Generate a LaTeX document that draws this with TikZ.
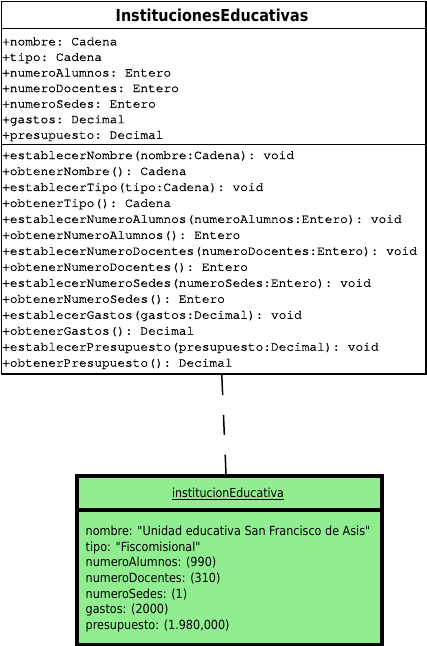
\documentclass[tikz,border=0pt]{standalone}
\usepackage{fontspec}
\setmonofont[FakeBold=1.3]{TeX Gyre Cursor}
\newfontfamily\objfont[FakeStretch=0.89]{DejaVu Sans}
\newfontfamily\ttlfont[FakeStretch=0.87]{DejaVu Sans}
\definecolor{objgreen}{HTML}{90EE90}
\begin{document}
\begin{tikzpicture}[x=1pt,y=-1pt,
  monotxt/.style={anchor=base west, inner sep=0pt, font=\ttfamily\fontsize{12.8}{16}\selectfont},
  objtxt/.style={anchor=base west, inner sep=0pt, font=\objfont\fontsize{12.6}{15}\selectfont},
  classbox/.style={draw, line width=1.6pt, inner sep=0pt, anchor=north west},
  objbox/.style={draw, fill=objgreen, line width=4pt, inner sep=0pt, anchor=north west},
  depline/.style={line width=1.5pt, dash pattern=on 20pt off 20pt}]
\useasboundingbox (0,0) rectangle (427,646);
% class box
\node[classbox, minimum width=424.2pt, minimum height=372.6pt] (cls) at (0.8,0.8) {};
\draw[line width=1.6pt] (cls.west |- 0,28.3) -- (cls.east |- 0,28.3);
\draw[line width=1.6pt] (cls.west |- 0,144.5) -- (cls.east |- 0,144.5);
\node[font=\ttlfont\bfseries\fontsize{16.5}{18}\selectfont] (title) at (212,15) {InstitucionesEducativas};
\foreach \t [count=\i] in {+nombre: Cadena,+tipo: Cadena,+numeroAlumnos: Entero,+numeroDocentes: Entero,+numeroSedes: Entero,+gastos: Decimal,+presupuesto: Decimal}
  \node[monotxt] (at\i) at (2,{45.3+15.57*(\i-1)}) {\t};
\foreach \t [count=\i] in {+establecerNombre(nombre:Cadena): void,+obtenerNombre(): Cadena,+establecerTipo(tipo:Cadena): void,+obtenerTipo(): Cadena,+establecerNumeroAlumnos(numeroAlumnos:Entero): void,+obtenerNumeroAlumnos(): Entero,+establecerNumeroDocentes(numeroDocentes:Entero): void,+obtenerNumeroDocentes(): Entero,+establecerNumeroSedes(numeroSedes:Entero): void,+obtenerNumeroSedes(): Entero,+establecerGastos(gastos:Decimal): void,+obtenerGastos(): Decimal,+establecerPresupuesto(presupuesto:Decimal): void,+obtenerPresupuesto(): Decimal}
  \node[monotxt] (mt\i) at (2,{159+15.97*(\i-1)}) {\t};
% object box
\node[objbox, minimum width=305pt, minimum height=169pt] (obj) at (75,474) {};
\draw[line width=4pt] (obj.west |- 0,509.7) -- (obj.east |- 0,509.7);
\node[anchor=base, inner sep=0pt, font=\objfont\fontsize{12.4}{15}\selectfont] (otitle) at (228,497.5) {\underline{institucionEducativa}};
\foreach \t [count=\i] in {nombre: "Unidad educativa San Francisco de Asis",tipo: "Fiscomisional",numeroAlumnos: (990),numeroDocentes: (310),numeroSedes: (1),gastos: (2000),{presupuesto: (1.980,000)}}
  \node[objtxt] (ov\i) at (85.5,{535.3+15.7*(\i-1)}) {\t};
% dependency
\draw[depline] ([xshift=8.1pt]cls.south) -- ([xshift=-3.5pt]obj.north);
\end{tikzpicture}
\end{document}
